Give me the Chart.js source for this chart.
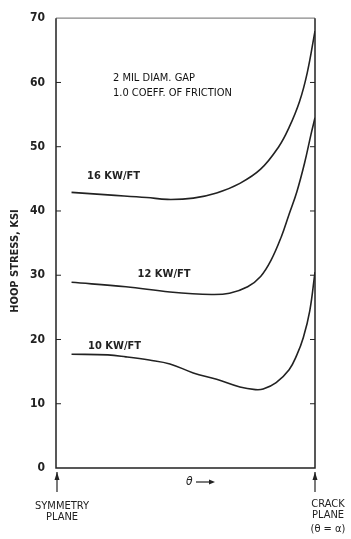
<!DOCTYPE html>
<html>
<head>
<meta charset="utf-8">
<script src="https://cdn.jsdelivr.net/npm/chart.js@4"></script>
<style>
  html, body { margin: 0; padding: 0; background: #fff; }
  #wrap { width: 351px; height: 539px; }
</style>
</head>
<body>
<div id="wrap"><canvas id="chart" width="351" height="539"></canvas></div>
<script>
// angle position from symmetry plane (0) to crack plane (100)
const x16 = [6, 20, 35, 43, 53, 62, 71, 79, 86, 90, 94, 97, 100];
const y16 = [42.9, 42.5, 42.1, 41.8, 42.0, 42.8, 44.3, 46.5, 50, 53, 57, 61.5, 68];

const x12 = [6, 27, 44, 60, 67, 74, 79, 83, 87, 90, 93, 96, 98.5, 100];
const y12 = [28.9, 28.2, 27.4, 27.0, 27.2, 28.2, 29.8, 32.3, 36, 39.5, 43, 47.5, 52, 54.5];

const x10 = [6, 20, 27, 36, 44, 53, 62, 71, 77, 80, 85, 90, 93, 95.5, 98, 100];
const y10 = [17.7, 17.6, 17.3, 16.8, 16.2, 14.8, 13.8, 12.6, 12.2, 12.3, 13.3, 15.3, 17.6, 20.3, 24.5, 30.5];

const yTicks = [0, 10, 20, 30, 40, 50, 60, 70];

const FONT = "'DejaVu Sans Condensed', 'Liberation Sans Narrow', sans-serif";
const INK = "#222";

const pts = (xs, ys) => xs.map((x, i) => ({ x: x, y: ys[i] }));

const decor = {
  id: "decor",
  afterDraw(chart) {
    const { ctx, chartArea: a, scales } = chart;
    const xs = scales.x, ys = scales.y;
    ctx.save();

    // frame
    ctx.strokeStyle = "#888";
    ctx.lineWidth = 1.2;
    ctx.beginPath();
    ctx.moveTo(a.left, a.top);
    ctx.lineTo(a.right, a.top);
    ctx.stroke();
    ctx.strokeStyle = INK;
    ctx.lineWidth = 1.5;
    ctx.beginPath();
    ctx.moveTo(a.left, a.top);
    ctx.lineTo(a.left, a.bottom);
    ctx.lineTo(a.right, a.bottom);
    ctx.lineTo(a.right, a.top);
    ctx.stroke();

    // inward tick marks on both sides
    ctx.lineWidth = 1;
    yTicks.slice(1, -1).forEach(v => {
      const py = ys.getPixelForValue(v);
      ctx.beginPath();
      ctx.moveTo(a.left, py); ctx.lineTo(a.left + 5, py);
      ctx.moveTo(a.right, py); ctx.lineTo(a.right - 5, py);
      ctx.stroke();
    });

    // arrows under both ends
    ctx.lineWidth = 1.2;
    [a.left + 1, a.right].forEach(px => {
      ctx.beginPath();
      ctx.moveTo(px, a.bottom + 4);
      ctx.lineTo(px, a.bottom + 24);
      ctx.stroke();
      ctx.beginPath();
      ctx.moveTo(px, a.bottom + 4);
      ctx.lineTo(px - 2.5, a.bottom + 12);
      ctx.lineTo(px + 2.5, a.bottom + 12);
      ctx.closePath();
      ctx.fillStyle = INK;
      ctx.fill();
    });

    ctx.fillStyle = INK;
    ctx.textBaseline = "middle";

    // curve labels and note
    ctx.font = "bold 11px " + FONT;
    ctx.textAlign = "left";
    const label = (t, x, y) => ctx.fillText(t, xs.getPixelForValue(x), ys.getPixelForValue(y));
    label("16 KW/FT", 12, 45.4);
    label("12 KW/FT", 31.5, 30.2);
    label("10 KW/FT", 12.4, 19.0);
    ctx.font = "11px " + FONT;
    ctx.fillStyle = "#111";
    label("2 MIL DIAM. GAP", 22, 60.6);
    label("1.0 COEFF. OF FRICTION", 22, 58.3);
    ctx.fillStyle = INK;

    // theta arrow
    ctx.font = "italic 12px " + FONT;
    const tx = a.left + 130;
    ctx.fillText("\u03b8", tx, a.bottom + 14);
    ctx.beginPath();
    ctx.moveTo(tx + 10, a.bottom + 14);
    ctx.lineTo(tx + 26, a.bottom + 14);
    ctx.stroke();
    ctx.beginPath();
    ctx.moveTo(tx + 29, a.bottom + 14);
    ctx.lineTo(tx + 23, a.bottom + 11.5);
    ctx.lineTo(tx + 23, a.bottom + 16.5);
    ctx.closePath();
    ctx.fill();

    // end labels
    ctx.font = "11px " + FONT;
    ctx.textAlign = "center";
    ctx.fillText("SYMMETRY", a.left + 6, a.bottom + 38);
    ctx.fillText("PLANE", a.left + 6, a.bottom + 49);
    ctx.fillText("CRACK", a.right + 13, a.bottom + 36);
    ctx.fillText("PLANE", a.right + 13, a.bottom + 47);
    ctx.fillText("(\u03b8 = \u03b1)", a.right + 13, a.bottom + 61);

    // y axis title
    ctx.font = "bold 11px " + FONT;
    ctx.translate(15, 261);
    ctx.rotate(-Math.PI / 2);
    ctx.fillText("HOOP STRESS, KSI", 0, 0);
    ctx.restore();
  }
};

const line = (data) => ({
  data: data,
  borderColor: INK,
  borderWidth: 1.6,
  pointRadius: 0,
  fill: false,
  tension: 0.4
});

new Chart(document.getElementById("chart"), {
  type: "line",
  data: {
    datasets: [line(pts(x16, y16)), line(pts(x12, y12)), line(pts(x10, y10))]
  },
  options: {
    responsive: false,
    animation: false,
    layout: { padding: { top: 13, right: 36, bottom: 71, left: 0 } },
    plugins: { legend: { display: false }, tooltip: { enabled: false } },
    scales: {
      x: { type: "linear", min: 0, max: 100, display: false },
      y: {
        type: "linear",
        min: 0,
        max: 70,
        afterFit: (s) => { s.width = 56; },
        afterBuildTicks: (s) => { s.ticks = yTicks.map(v => ({ value: v })); },
        grid: { display: false, drawTicks: false },
        border: { display: false },
        ticks: {
          padding: 11,
          color: INK,
          font: { family: FONT, size: 12, weight: "bold" }
        }
      }
    }
  },
  plugins: [decor]
});
</script>
</body>
</html>
